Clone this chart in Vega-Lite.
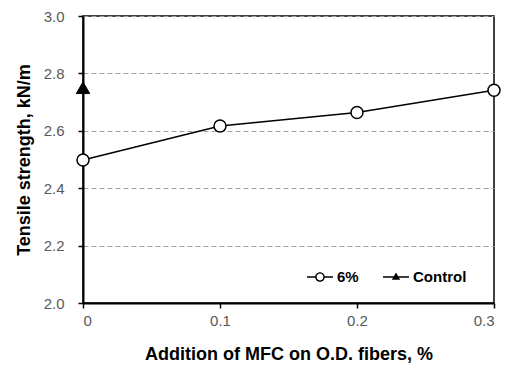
{
  "$schema": "https://vega.github.io/schema/vega-lite/v6.json",
  "width": 411,
  "height": 287,
  "autosize": {"type": "none"},
  "padding": {"left": 83, "top": 16, "right": 17, "bottom": 64},
  "background": "white",
  "config": {
    "view": {"stroke": "black", "strokeWidth": 1.5},
    "font": "Liberation Sans",
    "axis": {
      "domainColor": "black",
      "domainWidth": 2,
      "tickColor": "black",
      "tickWidth": 1.5,
      "tickSize": 5,
      "labelFont": "Liberation Sans",
      "labelFontSize": 15,
      "labelColor": "#595959",
      "titleFont": "Liberation Sans",
      "titleFontSize": 18,
      "titleFontWeight": "bold",
      "titleColor": "black"
    }
  },
  "datasets": {
    "pts": [
      {"mfc": 0, "strength": 2.498, "series": "6%"},
      {"mfc": 0.1, "strength": 2.617, "series": "6%"},
      {"mfc": 0.2, "strength": 2.664, "series": "6%"},
      {"mfc": 0.3, "strength": 2.741, "series": "6%"},
      {"mfc": 0, "strength": 2.75, "series": "Control"}
    ]
  },
  "data": {"name": "pts"},
  "encoding": {
    "x": {
      "field": "mfc",
      "type": "quantitative",
      "scale": {"domain": [0, 0.3], "nice": false, "zero": false},
      "axis": {
        "title": "Addition of MFC on O.D. fibers, %",
        "values": [0, 0.1, 0.2, 0.3],
        "labelExpr": "datum.value == 0 ? '0' : format(datum.value, '.1f')",
        "grid": false,
        "labelPadding": 5,
        "titlePadding": 17
      }
    },
    "y": {
      "field": "strength",
      "type": "quantitative",
      "scale": {"domain": [2.0, 3.0], "nice": false, "zero": false},
      "axis": {
        "title": "Tensile strength, kN/m",
        "values": [2.0, 2.2, 2.4, 2.6, 2.8, 3.0],
        "format": ".1f",
        "grid": true,
        "gridColor": "#a0a0a0",
        "gridDash": [5, 3],
        "gridWidth": 1,
        "labelPadding": 14,
        "titlePadding": 10
      }
    }
  },
  "layer": [
    {
      "transform": [{"filter": "datum.series == '6%'"}],
      "mark": {"type": "line", "color": "black", "strokeWidth": 1.5}
    },
    {
      "transform": [{"filter": "datum.series == '6%'"}],
      "mark": {"type": "point", "shape": "circle", "filled": true, "fill": "white", "stroke": "black", "strokeWidth": 1.5, "size": 144, "opacity": 1}
    },
    {
      "transform": [{"filter": "datum.series == 'Control'"}],
      "mark": {"type": "point", "shape": "triangle-up", "filled": true, "fill": "black", "stroke": "black", "strokeWidth": 1, "size": 180, "opacity": 1}
    },
    {
      "transform": [{"filter": "datum.series == 'legend-only'"}],
      "mark": {"type": "point", "filled": true, "fill": "black"},
      "encoding": {
        "shape": {
          "field": "series",
          "type": "nominal",
          "scale": {
            "domain": ["6%", "Control"],
            "range": [
              "M-1,-0.06H-0.33V0.06H-1ZM0.33,-0.06H1V0.06H0.33ZM0.37,0A0.37,0.37,0,1,1,-0.37,0A0.37,0.37,0,1,1,0.37,0ZM0.26,0A0.26,0.26,0,1,0,-0.26,0A0.26,0.26,0,1,0,0.26,0Z",
              "M-1,-0.06H1V0.06H-1ZM0,-0.34L0.32,0.22L-0.32,0.22Z"
            ]
          },
          "legend": {
            "title": null,
            "orient": "none",
            "legendX": 224,
            "legendY": 248,
            "direction": "horizontal",
            "padding": 0,
            "symbolSize": 676,
            "symbolOpacity": 1,
            "symbolStrokeWidth": 0,
            "symbolFillColor": "black",
            "labelFont": "Liberation Sans",
            "labelFontSize": 15,
            "labelFontWeight": "bold",
            "labelColor": "black",
            "labelOffset": 4,
            "columnPadding": 24
          }
        }
      }
    }
  ]
}
